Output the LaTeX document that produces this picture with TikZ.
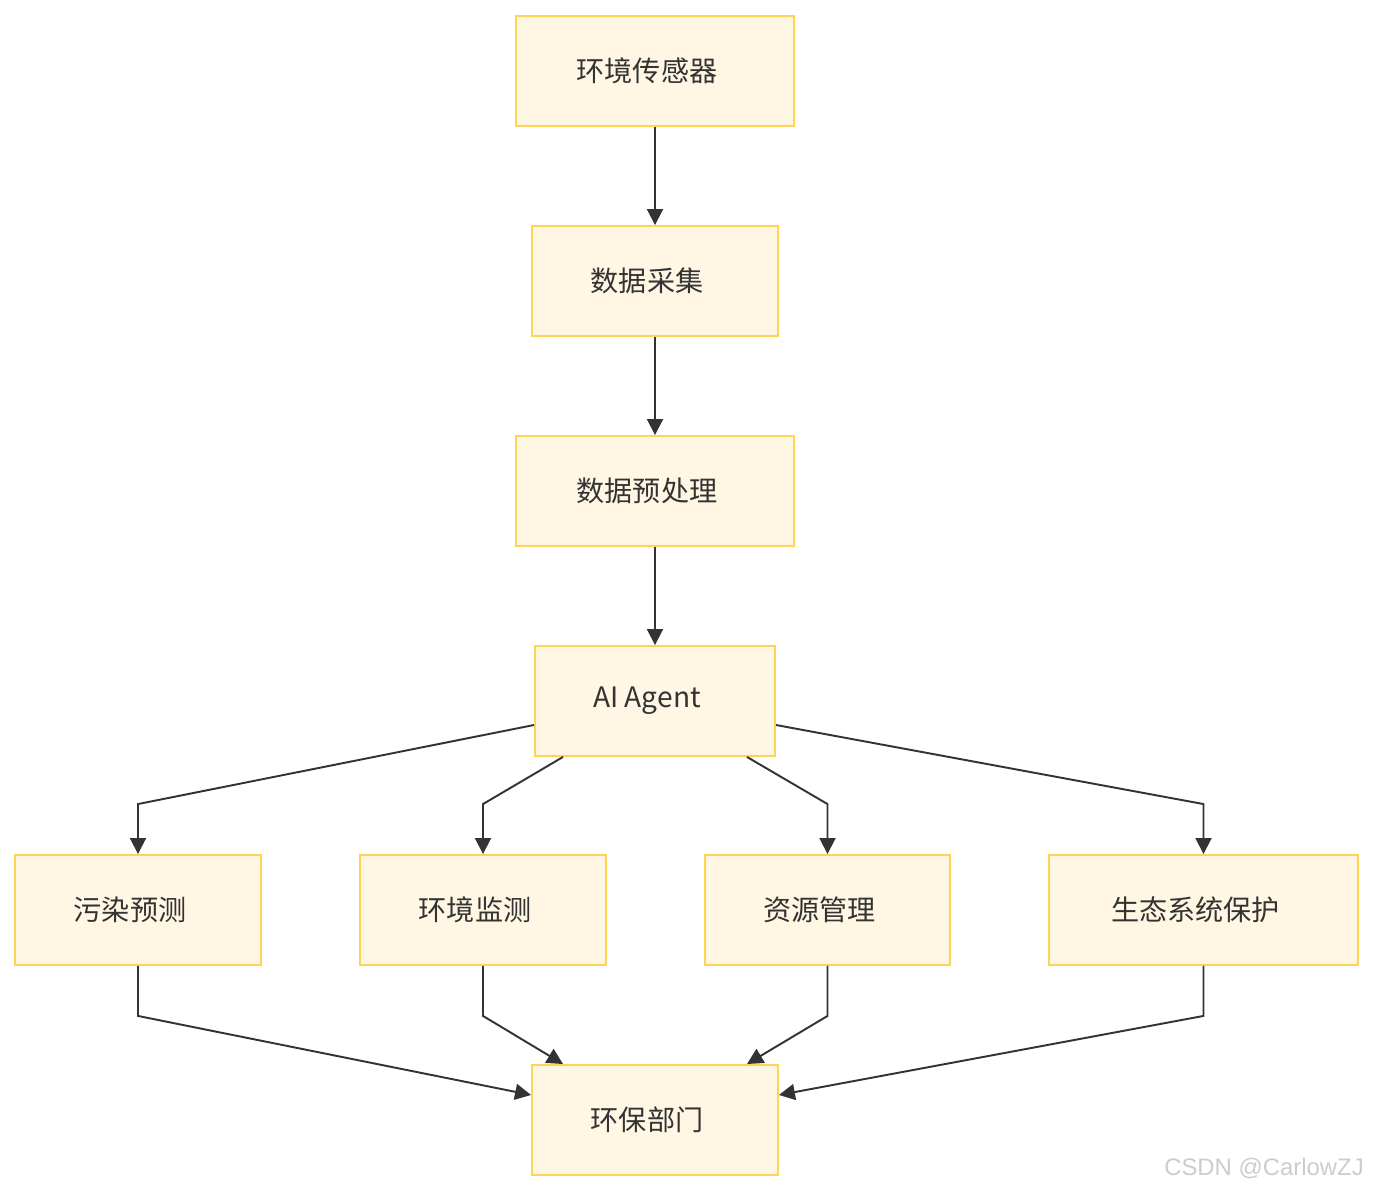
\documentclass[tikz,border=0pt]{standalone}
\usepackage{fontspec}
\usepackage{tikz}
\usetikzlibrary{arrows.meta, calc}
\newfontfamily\cjk{Noto Sans CJK SC}
\setsansfont{Liberation Sans}
\definecolor{boxfill}{HTML}{FFF7E4}
\definecolor{boxline}{HTML}{FFD454}
\definecolor{inkgray}{HTML}{333333}

\begin{document}
\begin{tikzpicture}[x=0.02cm, y=-0.02cm,
    fbox/.style={draw=boxline, fill=boxfill, line width=1.1pt, minimum height=2.2cm,
      inner sep=0pt, text=inkgray, font=\cjk\fontsize{16}{19}\selectfont,
      execute at end node=\hspace*{0.32cm}},
    arr/.style={-{Triangle[length=3.2mm, width=3.2mm]}, line width=1.1pt, draw=inkgray}]
    \useasboundingbox (0,0) rectangle (1374,1192);
    % main chain
    \node[fbox, minimum width=5.56cm] (sensor) at (655,71) {环境传感器};
    \node[fbox, minimum width=4.92cm] (collect) at (655,281) {数据采集};
    \node[fbox, minimum width=5.56cm] (prep) at (655,491) {数据预处理};
    \node[fbox, minimum width=4.8cm] (agent) at (655,701) {AI Agent};
    % tasks
    \node[fbox, minimum width=4.92cm] (pollution) at (138,910) {污染预测};
    \node[fbox, minimum width=4.92cm] (monitor) at (483,910) {环境监测};
    \node[fbox, minimum width=4.9cm] (resource) at (827.5,910) {资源管理};
    \node[fbox, minimum width=6.18cm] (eco) at (1203.5,910) {生态系统保护};
    \node[fbox, minimum width=4.92cm] (dept) at (655,1120) {环保部门};
    \draw[arr] (sensor) -- (collect);
    \draw[arr] (collect) -- (prep);
    \draw[arr] (prep) -- (agent);
    \draw[arr] ([yshift=-0.48cm]agent.west) -- ([yshift=1cm]pollution.north) -- (pollution.north);
    \draw[arr] ([xshift=-1.84cm]agent.south) -- ([yshift=1cm]monitor.north) -- (monitor.north);
    \draw[arr] ([xshift=1.84cm]agent.south) -- ([yshift=1cm]resource.north) -- (resource.north);
    \draw[arr] ([yshift=-0.48cm]agent.east) -- ([yshift=1cm]eco.north) -- (eco.north);
    \draw[arr] (pollution.south) -- ([yshift=-1cm]pollution.south) -- ([yshift=0.5cm]dept.west);
    \draw[arr] (monitor.south) -- ([yshift=-1cm]monitor.south) -- ([xshift=-1.84cm]dept.north);
    \draw[arr] (resource.south) -- ([yshift=-1cm]resource.south) -- ([xshift=1.84cm]dept.north);
    \draw[arr] (eco.south) -- ([yshift=-1cm]eco.south) -- ([yshift=0.5cm]dept.east);
    \node[text=black!20, font=\sffamily\fontsize{13.6}{16}\selectfont, anchor=east] (mark) at (1370,1168) {CSDN @CarlowZJ};
\end{tikzpicture}
\end{document}
